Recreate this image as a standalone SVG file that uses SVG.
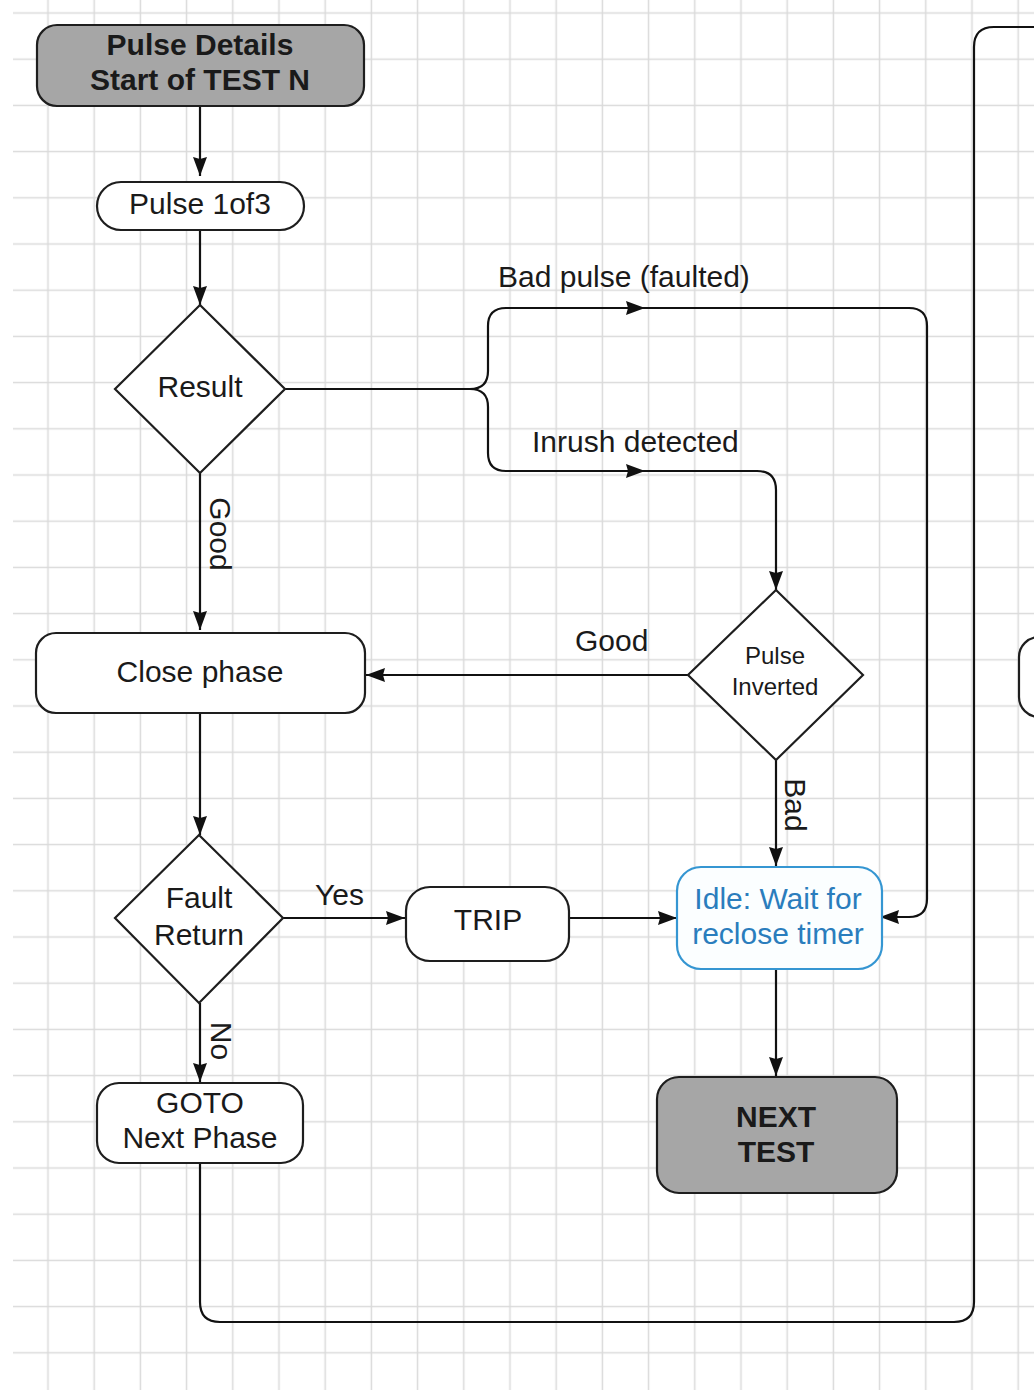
<svg xmlns="http://www.w3.org/2000/svg" width="1034" height="1390" viewBox="0 0 1034 1390">
<defs>
<pattern id="grid" patternUnits="userSpaceOnUse" x="24.9" y="-10.1" width="46.2" height="46.2">
<path d="M0,23.1 H46.2 M23.1,0 V46.2" stroke="#dadada" stroke-width="1.5" fill="none"/>
</pattern>
<marker id="arr" markerUnits="userSpaceOnUse" viewBox="0 0 19 14" markerWidth="19" markerHeight="14" refX="19" refY="7" orient="auto">
<path d="M0,0 L19,7 L0,14 L2,7 z" fill="#111"/>
</marker>
</defs>
<style>
.box{fill:#fff;stroke:#1e1e1e;stroke-width:2.2}
.gray{fill:#a6a6a6;stroke:#1e1e1e;stroke-width:2.2}
.idle{fill:#fbfeff;stroke:#3596d2;stroke-width:2.2}
.t{font-family:"Liberation Sans",Arial,sans-serif;font-size:30px;fill:#1a1a1a;text-anchor:middle}
.b{font-weight:bold}
.s{font-size:24px}
.blue{fill:#2a7dbd}
.lbl{font-family:"Liberation Sans",Arial,sans-serif;font-size:30px;fill:#1a1a1a}
.c{fill:none;stroke:#111;stroke-width:2.2}
</style>
<rect x="0" y="0" width="1034" height="1390" fill="#fff"/>
<rect x="13" y="0" width="1021" height="1390" fill="url(#grid)"/>

<g id="connectors">
<path class="c" d="M200,107 V176" marker-end="url(#arr)"/>
<path class="c" d="M200,230 V305" marker-end="url(#arr)"/>
<path class="c" d="M285,389 H470 Q488,389 488,371 V326 Q488,308 506,308 H645" marker-end="url(#arr)"/>
<path class="c" d="M640,308 H909 Q927,308 927,326 V899 Q927,917 909,917 H880" marker-end="url(#arr)"/>
<path class="c" d="M470,389 Q488,389 488,407 V453 Q488,471 506,471 H645" marker-end="url(#arr)"/>
<path class="c" d="M640,471 H757 Q776,471 776,490 V590" marker-end="url(#arr)"/>
<path class="c" d="M200,473 V630" marker-end="url(#arr)"/>
<path class="c" d="M688,675 H366" marker-end="url(#arr)"/>
<path class="c" d="M776,760 V866" marker-end="url(#arr)"/>
<path class="c" d="M200,713 V835" marker-end="url(#arr)"/>
<path class="c" d="M283,918 H405" marker-end="url(#arr)"/>
<path class="c" d="M569,918 H677" marker-end="url(#arr)"/>
<path class="c" d="M200,1003 V1082" marker-end="url(#arr)"/>
<path class="c" d="M776,969 V1076" marker-end="url(#arr)"/>
<path class="c" d="M200,1163 V1302 Q200,1322 220,1322 H954 Q974,1322 974,1302 V47 Q974,27 994,27 H1040"/>
<text class="lbl" x="498" y="287">Bad pulse (faulted)</text>
<text class="lbl" x="532" y="452">Inrush detected</text>
<text class="lbl" x="575" y="651">Good</text>
<text class="lbl" x="315" y="905">Yes</text>
<text class="t" transform="translate(210,534) rotate(90)">Good</text>
<text class="t" transform="translate(785,805) rotate(90)">Bad</text>
<text class="t" transform="translate(211,1041) rotate(90)">No</text>
</g>

<g id="start">
<rect class="gray" x="37" y="25" width="327" height="81" rx="20"/>
<text class="t b" x="200" y="55">Pulse Details</text>
<text class="t b" x="200" y="90">Start of TEST N</text>
</g>
<g id="pulse1">
<rect class="box" x="97" y="182" width="207" height="48" rx="24"/>
<text class="t" x="200" y="214">Pulse 1of3</text>
</g>
<g id="result">
<polygon class="box" points="200,305 285,389 200,473 115,389"/>
<text class="t" x="200" y="397">Result</text>
</g>
<g id="close">
<rect class="box" x="36" y="633" width="329" height="80" rx="20"/>
<text class="t" x="200" y="682">Close phase</text>
</g>
<g id="inverted">
<polygon class="box" points="776,590 863,675 776,760 688,675"/>
<text class="t s" x="775" y="664">Pulse</text>
<text class="t s" x="775" y="695">Inverted</text>
</g>
<g id="fault">
<polygon class="box" points="199,835 283,918 199,1003 115,918"/>
<text class="t" x="199" y="908">Fault</text>
<text class="t" x="199" y="945">Return</text>
</g>
<g id="trip">
<rect class="box" x="406" y="887" width="163" height="74" rx="24"/>
<text class="t" x="488" y="930">TRIP</text>
</g>
<g id="idle">
<rect class="idle" x="677" y="867" width="205" height="102" rx="24"/>
<text class="t blue" x="778" y="909">Idle: Wait for</text>
<text class="t blue" x="778" y="944">reclose timer</text>
</g>
<g id="goto">
<rect class="box" x="97" y="1083" width="206" height="80" rx="22"/>
<text class="t" x="200" y="1113">GOTO</text>
<text class="t" x="200" y="1148">Next Phase</text>
</g>
<g id="next">
<rect class="gray" x="657" y="1077" width="240" height="116" rx="22"/>
<text class="t b" x="776" y="1127">NEXT</text>
<text class="t b" x="776" y="1162">TEST</text>
</g>
<g id="offpage">
<rect class="box" x="1019" y="637" width="330" height="80" rx="20"/>
</g>
</svg>
